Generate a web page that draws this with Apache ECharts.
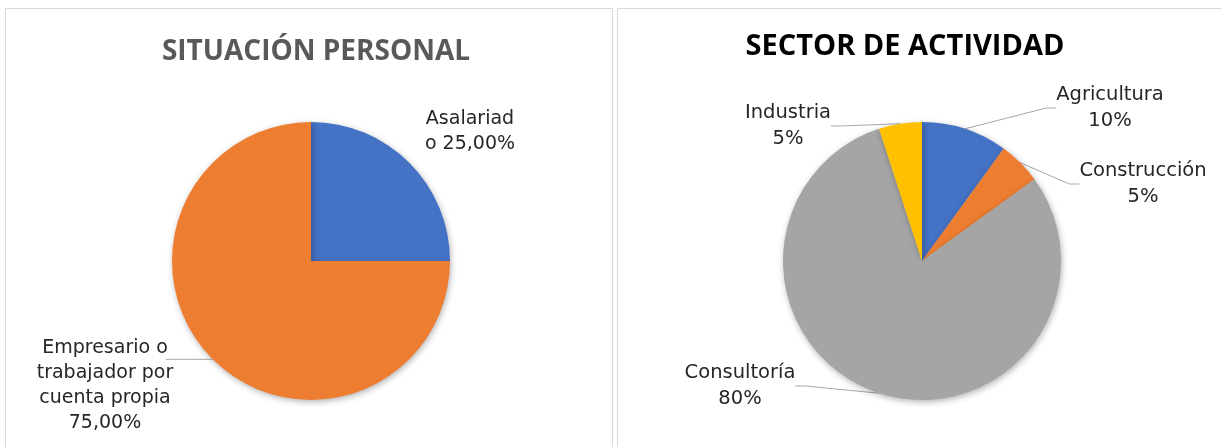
<!DOCTYPE html>
<html>
<head>
<meta charset="utf-8">
<script src="https://cdn.jsdelivr.net/npm/echarts@6/dist/echarts.min.js"></script>
<style>
  html, body { margin: 0; padding: 0; background: #fff; }
  #main { width: 1221px; height: 447px; }
</style>
</head>
<body>
<div id="main"></div>
<script>
// situacion personal
var personalNames = ['Asalariado', 'Empresario o trabajador por cuenta propia'];
var personalValues = [25, 75];
var personalLabels = ['Asalariad\no 25,00%', 'Empresario o\ntrabajador por\ncuenta propia\n75,00%'];

// sector de actividad
var sectorNames = ['Agricultura', 'Construcción', 'Consultoría', 'Industria'];
var sectorValues = [10, 5, 80, 5];
var sectorLabels = ['Agricultura\n10%', 'Construcción\n5%', 'Consultoría\n80%', 'Industria\n5%'];

var colors = ['#4472C4', '#ED7D31', '#A5A5A5', '#FFC000'];

// donde va cada etiqueta (centro del texto)
var labelPos = [
  [[470, 132], [105, 386]],
  [[1110, 108], [1143, 184], [740, 386], [788, 126]]
];

var labelFont = 'DejaVu Sans';

function buildData(names, values, labels) {
  var out = [];
  for (var i = 0; i < names.length; i++) {
    out.push({name: names[i], value: values[i], labelText: labels[i], itemStyle: {color: colors[i]}});
  }
  return out;
}

var personalData = buildData(personalNames, personalValues, personalLabels);
personalData[0].labelLine = {show: false};

function makeLayout(k) {
  return function (p) {
    var pos = labelPos[k][p.dataIndex];
    var res = {x: pos[0], y: pos[1], align: 'center', verticalAlign: 'middle'};
    //linea horizontal hasta la primera linea del texto (como en excel)
    if (k === 0 && p.dataIndex === 1 && p.labelLinePoints) {
      var a = p.labelLinePoints[0];
      res.labelLinePoints = [a, [a[0] - 47, a[1]]];
    }
    return res;
  };
}

var myChart = echarts.init(document.getElementById('main'));
var option = {
  animation: false,
  graphic: [
    {type: 'rect', shape: {x: 5.5, y: 8.5, width: 607, height: 460}, style: {fill: null, stroke: '#d9d9d9', lineWidth: 1}},
    {type: 'rect', shape: {x: 617.5, y: 8.5, width: 620, height: 460}, style: {fill: null, stroke: '#d9d9d9', lineWidth: 1}}
  ],
  title: [
    {
      text: 'SITUACIÓN PERSONAL', left: 311, top: 33, textAlign: 'center',
      textStyle: {fontFamily: 'Open Sans', fontSize: 28, fontWeight: 'bold', color: '#595959'}
    },
    {
      text: 'SECTOR DE ACTIVIDAD', left: 900, top: 27, textAlign: 'center',
      textStyle: {fontFamily: 'Open Sans', fontSize: 29, fontWeight: 'bold', color: '#000'}
    }
  ],
  series: [
    {
      type: 'pie',
      center: [311, 261],
      radius: 139,
      startAngle: 90,
      clockwise: true,
      data: personalData,
      itemStyle: {shadowBlur: 6, shadowColor: 'rgba(0,0,0,0.3)', shadowOffsetX: 1, shadowOffsetY: 2},
      label: {
        show: true, position: 'outside',
        formatter: function (p) { return p.data.labelText; },
        fontFamily: labelFont, fontSize: 19, lineHeight: 25, color: '#262626', align: 'center'
      },
      labelLine: {show: true, length: 10, length2: 10, lineStyle: {color: '#a6a6a6', width: 1}},
      labelLayout: makeLayout(0),
      emphasis: {disabled: true}
    },
    {
      type: 'pie',
      center: [922, 261],
      radius: 139,
      startAngle: 90,
      clockwise: true,
      data: buildData(sectorNames, sectorValues, sectorLabels),
      itemStyle: {shadowBlur: 6, shadowColor: 'rgba(0,0,0,0.3)', shadowOffsetX: 1, shadowOffsetY: 2},
      label: {
        show: true, position: 'outside',
        formatter: function (p) { return p.data.labelText; },
        fontFamily: labelFont, fontSize: 19.5, lineHeight: 26, color: '#262626', align: 'center'
      },
      labelLine: {show: true, length: 10, length2: 10, lineStyle: {color: '#a6a6a6', width: 1}},
      labelLayout: makeLayout(1),
      emphasis: {disabled: true}
    }
  ]
};
myChart.setOption(option);
</script>
</body>
</html>
